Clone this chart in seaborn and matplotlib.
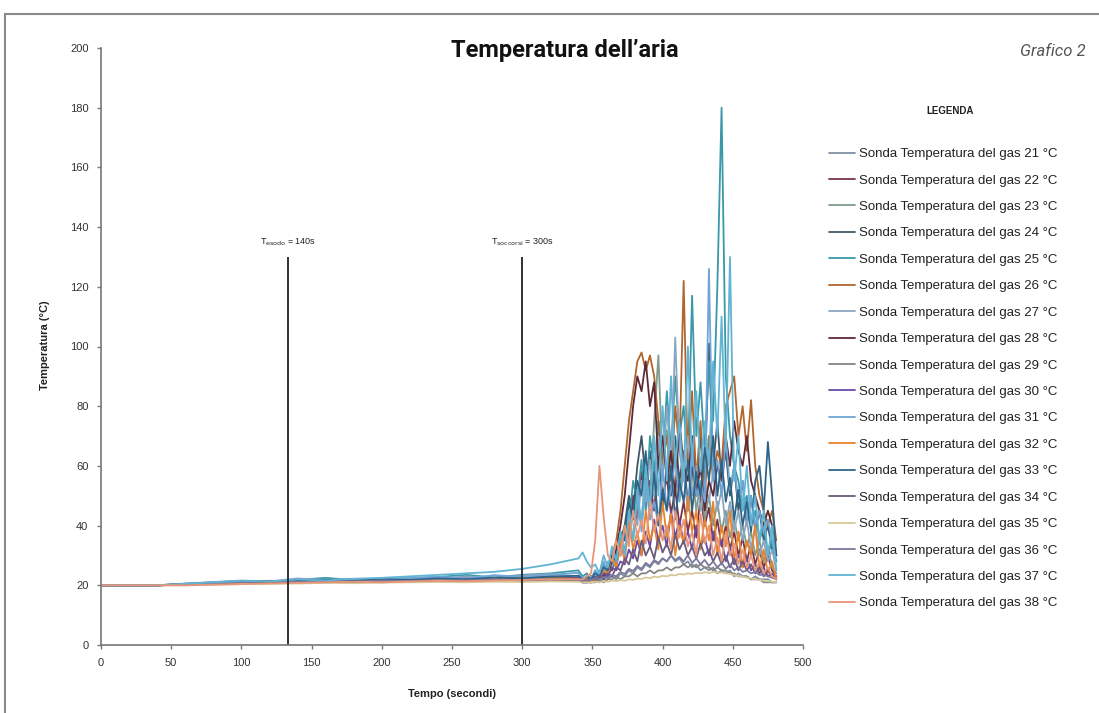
import matplotlib
matplotlib.use("Agg")
import matplotlib.pyplot as plt
import pandas as pd
import seaborn as sns
from matplotlib.lines import Line2D
from matplotlib.patches import Rectangle

# ---------------- data ----------------
tempo = list(range(0, 341, 20)) + list(range(343, 482, 3))

s21 = [20,20,20,20.3,20.6,21.0,20.8,21.2,21.0,21.3,21.1,21.4,21.6,21.3,21.7,21.5,21.8,21.6,
       21,21,21,22,21,22,22,23,22,24, 23,25,24,26,25,27,26,28,27,29, 28,30,28,29,27,28,26,27,25,26,
       25,26,24,25,24,25,23,24,23,23, 22,23,22,22,22,21,21]
s22 = [20,20,20,20.5,20.9,21.3,21.1,21.6,21.4,21.8,21.5,22.0,22.2,21.9,22.4,22.1,22.6,22.3,
       22,22,23,22,24,23,27,25,32,30, 40,36,50,42,58,48,55,45,62,50, 56,44,52,40,48,38,45,36,50,40,
       46,35,42,33,40,32,38,30,36,28, 34,27,32,26,30,25,23]
s23 = [20,20,20,20.2,20.7,21.1,21.4,21.2,21.7,21.5,21.9,21.6,22.1,22.4,22.0,22.5,22.8,22.5,
       22,21,22,23,22,25,24,28,26,33, 30,40,36,48,42,58,50,75,97,60, 72,55,68,50,62,48,58,45,55,42,
       50,40,48,38,45,36,42,35,40,33, 38,30,35,28,33,26,24]
s24 = [20,20,20,20.4,21.0,21.4,21.2,21.9,21.6,22.0,21.8,22.3,22.0,22.6,22.2,22.8,23.0,22.7,
       22,21,23,22,24,23,25,28,30,35, 40,50,45,60,70,55,65,50,75,45, 60,50,70,55,65,45,60,50,70,55,
       101,60,75,55,65,50,60,45,55,40, 50,38,45,35,40,32,28]
s25 = [20,20,20,20.3,20.9,21.4,21.2,21.8,22.5,21.7,22.0,22.4,22.8,23.5,22.6,23.5,24.0,25.0,
       23,24,22,25,23,27,24,30,28,35, 32,40,55,48,62,45,70,58,75,60, 85,65,90,70,80,60,117,70,88,65,
       95,75,120,180,90,70,60,55,45,50, 40,45,35,40,30,35,28]
s26 = [20,20,20,20.2,20.5,20.9,21.2,21.0,21.5,21.3,21.8,21.6,22.0,22.5,22.1,22.4,22.7,22.3,
       22,22,23,22,24,23,26,30,35,45, 60,75,85,95,98,92,97,90,75,60, 70,55,80,65,122,60,85,55,75,50,
       70,55,65,60,80,85,90,70,80,65, 82,60,50,45,40,45,35]
s27 = [20,20,20,20.6,21.1,21.6,21.3,22.3,21.8,22.1,21.7,22.5,22.2,23.0,22.4,23.2,23.8,23.0,
       22,22,23,22,25,24,28,26,32,30, 38,35,45,40,55,48,62,50,70,55, 80,60,103,65,55,70,50,60,45,55,
       48,58,45,52,40,48,38,45,35,42, 32,40,30,35,28,32,25]
s28 = [20,20,20,20.3,20.8,21.2,21.0,21.4,21.2,21.6,21.3,21.7,21.9,21.6,22.1,21.8,22.2,22.0,
       21,22,21,22,22,23,24,28,32,40, 50,65,80,90,85,95,80,88,60,70, 55,65,50,75,60,55,70,50,60,45,
       55,50,60,55,70,60,75,65,60,70, 55,50,45,40,45,40,30]
s29 = [20,20,20,20.2,20.4,20.7,20.9,20.8,21.0,21.2,21.0,21.3,21.5,21.3,21.6,21.4,21.7,21.5,
       21,21,21,21,22,21,22,22,23,22, 23,23,24,23,24,24,25,24,25,25, 26,25,26,26,27,26,27,26,27,26,
       26,25,26,25,25,24,24,23,23,23, 22,22,22,21,21,21,21]
s30 = [20,20,20,20.4,20.8,21.1,21.4,21.2,21.5,21.3,21.7,21.5,21.9,22.2,21.8,22.3,22.0,22.5,
       21,22,22,23,22,24,23,26,25,28, 27,32,29,35,30,38,33,42,35,40, 33,45,36,42,34,38,32,40,33,36,
       30,38,32,35,28,33,27,30,26,29, 25,27,24,26,23,24,22]
s31 = [20,20,20,20.5,21.0,21.5,21.2,21.9,21.5,22.1,21.8,22.4,22.9,22.3,23.4,22.8,23.5,24.2,
       22,23,22,25,23,28,24,32,27,36, 30,42,35,50,38,55,42,48,40,60, 45,52,62,48,58,45,66,50,55,48,
       126,55,62,50,70,52,60,48,55,42, 50,40,45,38,42,35,30]
s32 = [20,20,20,20.2,20.5,20.8,21.0,20.9,21.2,21.4,21.2,21.6,21.8,21.5,22.0,21.8,22.3,22.0,
       21,22,21,22,23,25,24,30,26,35, 28,42,32,38,30,45,35,40,32,48, 36,44,30,40,34,50,38,45,32,42,
       35,48,30,40,33,45,28,38,26,35, 30,40,25,32,24,28,22]
s33 = [20,20,20,20.3,20.7,21.2,21.5,21.3,21.8,21.5,22.0,21.8,22.3,22.0,22.6,22.3,22.9,23.2,
       22,23,22,24,23,26,25,30,28,38, 35,48,42,55,50,65,45,58,40,52, 45,60,42,55,48,62,45,58,50,66,
       55,70,50,62,48,56,42,52,40,48, 38,55,60,45,68,50,30]
s34 = [20,20,20,20.3,20.6,21.0,21.2,21.1,21.4,21.2,21.5,21.3,21.7,21.5,21.9,21.7,22.0,21.8,
       21,21,22,22,23,22,24,23,26,25, 29,27,32,28,35,30,33,29,36,31, 34,30,37,32,35,30,33,29,34,30,
       32,28,31,27,30,26,29,25,28,25, 27,24,26,23,25,23,22]
s35 = [20,20,20,20,20.2,20.4,20.5,20.6,20.8,20.7,20.9,21.0,21.1,21.0,21.2,21.1,21.3,21.2,
       21,21,21,21.2,21,21.4,21.2,21.6,21.4,21.8, 21.5,22,21.8,22.3,22.1,22.6,22.4,22.9,22.7,23.2,
       23,23.5,23.3,23.8,23.6,24,23.8,24.2,24,24.4, 24.1,24.5,24.2,24.3,24,23.8,23.5,23.2,22.9,22.6,
       22.3,22,21.8,21.6,21.4,21.2,21]
s36 = [20,20,20,20.3,20.7,21.0,21.3,21.1,21.5,21.2,21.6,21.4,21.8,21.6,22.0,21.7,22.1,21.9,
       21.5,22,21.8,22.3,22,22.8,22.5,23.5,23,24.5, 23.8,25.5,24.8,26.5,25.5,27.5,26.5,28.5,27.5,29,
       28,30,28.5,29.5,28,30,27.5,29,27,28.5, 26.5,28,26,27.5,25.5,27,25,26,24.5,25,
       24,24.5,23.5,23.5,23,22.5,22]
s37 = [20,20,20,20.5,21,21.5,21.3,22,21.6,22.2,22.5,23,23.5,24,24.5,25.5,27,29,
       31,28,26,27,24,30,26,33,28,38, 30,45,35,52,40,60,45,70,50,80, 55,90,60,75,55,100,60,85,58,75,
       60,95,70,110,65,130,55,70,45,60, 40,50,35,45,30,40,25]
s38 = [20,20,20,20,20.2,20.4,20.6,20.8,21,21.2,21,21.3,21.5,21.4,21.6,21.8,22,22,
       22,23,24,35,60,43,30,28,35,30, 40,33,45,36,42,34,48,38,44,35, 40,32,45,36,42,33,38,30,44,34,
       40,30,36,28,38,30,34,27,32,26, 30,25,28,24,26,23,22]

serie = [s21, s22, s23, s24, s25, s26, s27, s28, s29, s30,
         s31, s32, s33, s34, s35, s36, s37, s38]
numeri = list(range(21, 39))
etichette = [f"Sonda Temperatura del gas {n} °C" for n in numeri]
colori = ["#8090a4", "#7a3447", "#7f9c8c", "#3f5868", "#3a98a8", "#b0662c",
          "#8ca6c0", "#5e2a36", "#858585", "#6a4aa6", "#6ea4d6", "#e8832e",
          "#2d6488", "#6a5a7c", "#d6c89a", "#7c7a9c", "#62b4d4", "#e8967a"]

frames = [pd.DataFrame({"Tempo": tempo, "Temperatura": s, "Serie": lab})
          for s, lab in zip(serie, etichette)]
df = pd.concat(frames, ignore_index=True)
palette = dict(zip(etichette, colori))

# ---------------- plot ----------------
sns.set_theme(style="white")
plt.rcParams["font.family"] = ["Liberation Sans", "DejaVu Sans"]

W, H = 1099, 713
fig = plt.figure(figsize=(W / 100, H / 100), dpi=100)
ax = fig.add_axes([101 / W, 1 - 645 / H, (803 - 101) / W, (645 - 48) / H])

sns.lineplot(data=df, x="Tempo", y="Temperatura", hue="Serie", hue_order=etichette,
             palette=palette, estimator=None, sort=False, linewidth=1.3,
             legend=False, ax=ax)

ax.set_xlim(0, 500)
ax.set_ylim(0, 200)
ax.set_xticks(range(0, 501, 50))
ax.set_yticks(range(0, 201, 20))
ax.tick_params(axis="both", labelsize=8, labelcolor="#333333", bottom=True, left=True,
               direction="out", length=3, width=1, color="#777777", pad=6)
for side in ("top", "right"):
    ax.spines[side].set_visible(False)
for side in ("left", "bottom"):
    ax.spines[side].set_color("#777777")
    ax.spines[side].set_linewidth(1.2)

ax.set_xlabel("Tempo (secondi)", fontsize=8, fontweight="bold", color="#222222")
ax.set_ylabel("Temperatura (°C)", fontsize=8, fontweight="bold", color="#222222")
ax.xaxis.set_label_coords(0.5, -0.074)
ax.yaxis.set_label_coords(-0.073, 0.503)

# event markers
ax.vlines([133, 300], 0, 130, color="#222222", linewidth=1.3)
ax.text(133, 133, r"T$_{\mathrm{esodo}}$ = 140s", ha="center", va="bottom",
        fontsize=6.5, color="#222222")
ax.text(300, 133, r"T$_{\mathrm{soccorsi}}$ = 300s", ha="center", va="bottom",
        fontsize=6.5, color="#222222")

# title and tag
fig.text(565 / W, 1 - 51 / H, "Temperatura dell’aria", ha="center", va="center",
         fontsize=17, fontweight="bold", family="Roboto", color="#111111")
fig.text(1086 / W, 1 - 51 / H, "Grafico 2", ha="right", va="center",
         fontsize=12, style="italic", color="#555555", family="Roboto")

# legend
fig.text(950 / W, 1 - 111 / H, "LEGENDA", ha="center", va="center",
         fontsize=7, fontweight="bold", color="#222222")
handles = [Line2D([0], [0], color=palette[l], linewidth=1.3) for l in etichette]
fig.legend(handles, etichette, loc="upper left", bbox_to_anchor=(829 / W, 1 - 148 / H),
           frameon=False, fontsize=9.5, handlelength=2.0, handletextpad=0.3,
           labelspacing=1.075, borderpad=0, borderaxespad=0, labelcolor="#222222")

# outer frame of the page
fig.patches.append(Rectangle((5 / W, -0.05), 1.1, 1 - 14 / H + 0.05,
                             transform=fig.transFigure, fill=False,
                             edgecolor="#8a8a8a", linewidth=1.5))

fig.savefig("out.png", dpi=100)
